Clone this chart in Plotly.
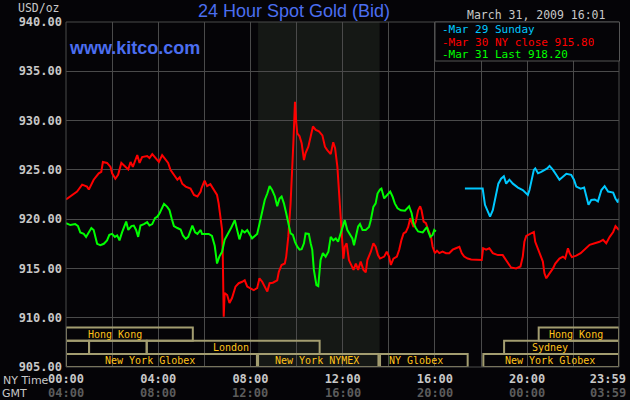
import plotly.graph_objects as go

# ---------------- data (hours since 00:00 NY time, USD/oz) ----------------
red_t = [0.00, 0.26, 0.48, 0.70, 0.91, 0.99, 1.20, 1.42, 1.53, 1.60, 1.78, 1.93, 2.00, 2.14, 2.26, 2.40,
         2.58, 2.70, 2.80, 2.90, 3.01, 3.09, 3.19, 3.30, 3.52, 3.62, 3.74, 3.88, 4.03, 4.17, 4.32, 4.43,
         4.53, 4.68, 4.83, 4.93, 5.04, 5.19, 5.40, 5.55, 5.70, 5.84, 5.87, 6.01, 6.12, 6.26, 6.40, 6.55,
         6.62, 6.70, 6.77, 6.80, 6.84, 6.88, 6.99, 7.09, 7.20, 7.35, 7.49, 7.64, 7.75, 7.86, 8.00, 8.14,
         8.29, 8.39, 8.51, 8.65, 8.73, 8.83, 8.97, 9.16, 9.23, 9.35, 9.49, 9.55, 9.64, 9.74, 9.81, 9.86,
         9.90, 9.93, 9.99, 10.03, 10.13, 10.22, 10.32, 10.39, 10.51, 10.61, 10.71, 10.83, 10.97, 11.12,
         11.23, 11.33, 11.48, 11.59, 11.67, 11.77, 11.84, 11.91, 11.96, 12.03, 12.09, 12.17, 12.27, 12.38,
         12.47, 12.57, 12.67, 12.78, 12.90, 13.00, 13.07, 13.22, 13.33, 13.43, 13.53, 13.62, 13.80, 13.91,
         14.01, 14.09, 14.20, 14.35, 14.45, 14.55, 14.64, 14.74, 14.84, 14.93, 14.99, 15.07, 15.17, 15.27,
         15.36, 15.42, 15.51, 15.61, 15.71, 15.83, 15.90, 16.00, 16.09, 16.19, 16.33, 16.48, 16.62, 16.77,
         16.91, 17.06, 17.16, 17.27, 17.42, 17.57, 18.03, 18.09, 18.22, 18.36, 18.51, 18.73, 18.94, 19.04,
         19.16, 19.30, 19.52, 19.71, 19.81, 19.88, 19.96, 20.17, 20.29, 20.35, 20.47, 20.58, 20.68, 20.75,
         20.83, 20.97, 21.12, 21.22, 21.40, 21.55, 21.65, 21.77, 21.84, 21.94, 22.13, 22.32, 22.49, 22.71,
         22.93, 23.14, 23.29, 23.43, 23.58, 23.73, 23.83, 23.94, 23.98]
red_p = [922.0, 922.4, 922.8, 923.5, 923.3, 923.0, 924.0, 924.65, 924.8, 925.8, 925.7, 925.3, 924.65, 924.1,
         924.5, 925.7, 925.3, 925.05, 925.8, 925.3, 926.0, 926.5, 925.7, 926.3, 926.4, 926.2, 926.6, 926.2,
         925.8, 926.5, 926.1, 925.7, 925.0, 924.5, 924.0, 924.25, 923.6, 923.3, 923.1, 922.45, 922.3, 922.8,
         923.1, 923.9, 923.35, 923.55, 922.95, 922.45, 921.6, 919.9, 918.9, 916.2, 910.1, 912.5, 912.3,
         911.5, 912.0, 913.15, 913.5, 913.65, 913.8, 913.15, 913.0, 912.8, 913.0, 914.0, 913.65, 913.0,
         912.65, 913.5, 913.55, 913.8, 914.65, 915.35, 915.5, 916.2, 918.2, 921.6, 924.65, 927.7, 930.05,
         931.9, 929.7, 928.7, 928.4, 927.7, 926.0, 926.7, 927.35, 928.4, 929.4, 929.05, 928.9, 928.5,
         927.35, 927.0, 926.6, 927.8, 927.2, 925.3, 922.95, 920.6, 917.9, 916.0, 917.2, 917.55, 915.85,
         915.2, 914.85, 915.5, 914.85, 915.7, 914.85, 914.6, 915.85, 916.7, 917.55, 917.2, 916.35, 916.0,
         916.2, 916.7, 916.2, 915.35, 916.0, 916.2, 916.9, 917.9, 918.55, 918.7, 919.2, 920.1, 919.75,
         919.2, 919.75, 920.9, 921.3, 920.9, 919.75, 919.6, 918.9, 918.2, 917.2, 916.55, 916.8, 916.55,
         916.7, 916.55, 916.55, 916.9, 917.05, 917.2, 916.55, 916.2, 916.0, 915.9, 915.85, 917.05, 916.9,
         917.05, 916.55, 916.35, 916.35, 916.0, 915.5, 915.1, 915.0, 915.2, 916.2, 917.7, 918.3, 918.55,
         918.7, 917.7, 916.9, 916.2, 915.7, 914.5, 914.0, 914.5, 915.0, 915.5, 916.0, 916.2, 916.0, 917.05,
         916.55, 916.15, 916.3, 916.55, 916.9, 917.4, 917.55, 917.7, 917.9, 917.55, 918.2, 918.7, 919.3,
         918.95, 918.9]

green_t = [0.00, 0.19, 0.40, 0.52, 0.62, 0.77, 0.87, 0.99, 1.10, 1.20, 1.27, 1.35, 1.49, 1.64, 1.78, 1.88,
           2.00, 2.12, 2.22, 2.32, 2.43, 2.55, 2.61, 2.70, 2.84, 2.94, 3.04, 3.13, 3.23, 3.38, 3.52, 3.62,
           3.74, 3.86, 3.96, 4.06, 4.17, 4.25, 4.39, 4.49, 4.58, 4.68, 4.83, 4.97, 5.07, 5.19, 5.30, 5.40,
           5.48, 5.60, 5.70, 5.84, 5.90, 6.19, 6.33, 6.45, 6.51, 6.55, 6.65, 6.77, 6.88, 7.03, 7.17, 7.32,
           7.42, 7.52, 7.64, 7.75, 7.86, 7.96, 8.07, 8.19, 8.29, 8.39, 8.51, 8.62, 8.73, 8.83, 8.94, 9.06,
           9.16, 9.26, 9.35, 9.45, 9.55, 9.64, 9.74, 9.84, 9.93, 10.03, 10.13, 10.22, 10.32, 10.39, 10.53,
           10.61, 10.68, 10.75, 10.86, 10.94, 11.00, 11.04, 11.14, 11.26, 11.38, 11.48, 11.59, 11.70, 11.80,
           11.91, 12.03, 12.09, 12.20, 12.32, 12.42, 12.49, 12.57, 12.67, 12.75, 12.86, 13.00, 13.14, 13.22,
           13.33, 13.43, 13.51, 13.62, 13.68, 13.80, 13.91, 14.06, 14.16, 14.26, 14.38, 14.52, 14.70, 14.81,
           14.88, 14.99, 15.07, 15.17, 15.27, 15.47, 15.57, 15.65, 15.71, 15.80, 15.90, 15.97, 16.04]
green_p = [919.6, 919.4, 919.5, 919.3, 918.65, 918.5, 918.2, 918.65, 919.1, 918.9, 918.2, 917.5, 917.35,
           917.5, 917.85, 918.4, 918.5, 918.2, 918.35, 917.85, 918.65, 919.4, 919.75, 918.9, 919.3, 919.35,
           918.9, 918.2, 919.35, 919.5, 919.7, 919.35, 919.5, 920.1, 920.25, 920.6, 921.2, 921.55, 921.25,
           920.9, 920.1, 919.3, 919.1, 918.95, 918.35, 918.0, 918.2, 918.9, 919.35, 918.65, 918.5, 918.9,
           918.5, 918.5, 918.3, 917.3, 916.35, 915.5, 916.2, 916.7, 917.9, 918.5, 919.15, 919.9, 918.9,
           917.95, 918.85, 918.65, 918.9, 918.5, 918.05, 918.3, 918.5, 919.5, 920.95, 921.95, 922.6, 923.35,
           922.95, 922.3, 921.3, 922.1, 922.3, 921.6, 920.6, 919.6, 918.55, 918.4, 917.7, 917.2, 916.9,
           916.95, 917.55, 918.55, 918.5, 917.55, 916.9, 914.85, 913.3, 913.2, 914.5, 915.85, 916.55, 916.2,
           916.7, 918.2, 917.85, 918.05, 917.7, 918.55, 919.4, 919.9, 918.9, 918.4, 918.05, 917.35, 918.2,
           919.25, 919.5, 918.9, 918.9, 919.2, 919.9, 921.25, 921.6, 922.6, 923.0, 923.1, 922.1, 922.45,
           922.8, 922.3, 921.6, 921.1, 920.9, 920.85, 921.1, 921.3, 920.6, 919.6, 919.1, 918.75, 918.65,
           918.95, 919.2, 918.75, 918.2, 918.4, 918.9, 918.75]

cyan_t = [17.30, 18.07, 18.17, 18.29, 18.39, 18.51, 18.65, 18.75, 18.87, 18.99, 19.09, 19.23, 19.38, 19.60,
          19.81, 20.03, 20.10, 20.20, 20.29, 20.35, 20.47, 20.61, 20.75, 20.87, 20.97, 21.12, 21.26, 21.40,
          21.55, 21.70, 21.91, 22.03, 22.13, 22.32, 22.47, 22.57, 22.66, 22.78, 22.93, 23.07, 23.22, 23.36,
          23.51, 23.73, 23.83, 23.94, 23.98]
cyan_p = [923.1, 923.1, 921.45, 920.75, 920.25, 920.9, 922.6, 923.6, 924.1, 924.35, 923.6, 924.0, 923.6,
          923.2, 922.95, 922.45, 922.95, 924.1, 925.0, 925.15, 924.65, 924.8, 925.0, 925.15, 925.4, 925.0,
          924.5, 924.0, 924.3, 924.6, 924.5, 924.0, 923.3, 923.1, 923.2, 922.3, 921.45, 921.95, 922.0, 921.8,
          922.95, 923.35, 922.8, 922.7, 922.1, 921.7, 922.1]

# tick labels (the last one is nudged left so that it stays inside the picture)
tick_pos = [0, 4, 8, 12, 16, 20, 23.5]
ny_labels = ["00:00", "04:00", "08:00", "12:00", "16:00", "20:00", "23:59"]
gmt_labels = ["04:00", "08:00", "12:00", "16:00", "20:00", "00:00", "03:59"]

legend_texts = ["-Mar 29 Sunday", "-Mar 30 NY close 915.80", "-Mar 31 Last 918.20"]

# trading sessions: (row, start hour, end hour, label, label centre hour)
sessions = [
    (0, 0.0, 5.5, "Hong Kong", 2.13),
    (0, 20.5, 23.983, "Hong Kong", 22.1),
    (1, 0.0, 1.0, "", None),
    (1, 1.0, 3.5, "", None),
    (1, 3.5, 11.0, "London", 7.17),
    (1, 19.0, 23.983, "Sydney", 21.0),
    (2, 0.0, 8.28, "New York Globex", 3.65),
    (2, 8.33, 13.55, "New York NYMEX", 10.9),
    (2, 13.62, 17.42, "NY Globex", 15.2),
    (2, 18.1, 23.983, "New York Globex", 21.0),
]

# ---------------- layout helpers ----------------
W, H = 630, 400
L, R, T, B = 66, 11, 22, 33
PW, PH = W - L - R, H - T - B
BG = "#050407"
MONO = "DejaVu Sans Mono"
XMAX = 23.983


def pxx(x):
    return (x - L) / PW


def pyy(y):
    return (H - B - y) / PH


YMIN, YMAX = 905, 940
row_edges = [(907.67, 909.0), (906.33, 907.67), (905.0, 906.33)]

fig = go.Figure()
fig.add_trace(go.Scatter(x=red_t, y=red_p, mode="lines", line=dict(color="#ff0000", width=2),
                         hoverinfo="skip"))
fig.add_trace(go.Scatter(x=green_t, y=green_p, mode="lines", line=dict(color="#00ff00", width=2),
                         hoverinfo="skip"))
fig.add_trace(go.Scatter(x=cyan_t, y=cyan_p, mode="lines", line=dict(color="#00c8ff", width=2),
                         hoverinfo="skip"))

shapes = []
# NYMEX shaded period
shapes.append(dict(type="rect", xref="x", yref="y", x0=8.33, x1=13.6, y0=YMIN, y1=YMAX,
                   fillcolor="#151815", line=dict(width=0), layer="below"))
# session boxes
annotations = []
for row, s, e, lab, lc in sessions:
    y0, y1 = row_edges[row]
    shapes.append(dict(type="rect", xref="x", yref="y", x0=s, x1=e, y0=y0, y1=y1,
                       line=dict(color="#a39d70", width=2), fillcolor="rgba(0,0,0,0)", layer="above"))
    if lab:
        annotations.append(dict(x=lc, y=(y0 + y1) / 2, xref="x", yref="y", text=lab, showarrow=False,
                                font=dict(family=MONO, size=10, color="#ffc21a"),
                                xanchor="center", yanchor="middle"))
# plot border
shapes.append(dict(type="rect", xref="paper", yref="paper", x0=0, x1=1, y0=0, y1=1,
                   line=dict(color="#4a4a4a", width=1), layer="above"))
# legend box
shapes.append(dict(type="rect", xref="paper", yref="paper", x0=pxx(435), x1=pxx(619.5), y0=pyy(61),
                   y1=pyy(22), line=dict(color="#555555", width=1), fillcolor=BG, layer="above"))

legend_colors = ["#00c8ff", "#ff0000", "#00ff00"]
for i, (txt, col) in enumerate(zip(legend_texts, legend_colors)):
    annotations.append(dict(x=pxx(441), y=pyy(29 + 12.5 * i), xref="paper", yref="paper", text=txt,
                            showarrow=False, xanchor="left", yanchor="middle", height=12, borderpad=0,
                            valign="middle",
                            font=dict(family=MONO, size=11, color=col)))

# GMT row of time labels
for pos, lab in zip(tick_pos, gmt_labels):
    annotations.append(dict(x=pos, y=pyy(393), xref="x", yref="paper", text=lab, showarrow=False,
                            xanchor="center", yanchor="middle",
                            font=dict(family=MONO, size=12, color="#5c5c5c", weight="bold")))

annotations += [
    dict(x=pxx(294), y=pyy(11), xref="paper", yref="paper", text="24 Hour Spot Gold (Bid)",
         showarrow=False, xanchor="center", yanchor="middle",
         font=dict(family="Liberation Sans", size=18, color="#4b6ef0")),
    dict(x=pxx(67), y=pyy(48), xref="paper", yref="paper", text="www.kitco.com",
         showarrow=False, xanchor="left", yanchor="middle",
         font=dict(family="Liberation Sans", size=18, color="#4b6ef0", weight="bold")),
    dict(x=pxx(608), y=pyy(15), xref="paper", yref="paper", text="March 31, 2009 16:01",
         showarrow=False, xanchor="right", yanchor="middle",
         font=dict(family=MONO, size=11.5, color="#c8c8c8")),
    dict(x=pxx(62), y=pyy(8), xref="paper", yref="paper", text="USD/oz",
         showarrow=False, xanchor="right", yanchor="middle",
         font=dict(family=MONO, size=11.5, color="#c8c8c8")),
    dict(x=pxx(1), y=pyy(380), xref="paper", yref="paper", text="NY Time",
         showarrow=False, xanchor="left", yanchor="middle",
         font=dict(family="DejaVu Sans", size=11, color="#c8c8c8")),
    dict(x=pxx(29), y=pyy(393), xref="paper", yref="paper", text="GMT",
         showarrow=False, xanchor="right", yanchor="middle",
         font=dict(family="DejaVu Sans", size=11, color="#c8c8c8")),
]

fig.update_layout(
    width=W, height=H, margin=dict(l=L, r=R, t=T, b=B, pad=0, autoexpand=False),
    paper_bgcolor=BG, plot_bgcolor=BG, showlegend=False,
    shapes=shapes, annotations=annotations,
    xaxis=dict(range=[0, XMAX], tickvals=tick_pos, ticktext=ny_labels, showgrid=False,
               zeroline=False, showline=False, ticks="", automargin=False,
               tickfont=dict(family=MONO, size=12, color="#c8c8c8", weight="bold"),
               ticklabelstandoff=3,
               minor=dict(tick0=0, dtick=2, showgrid=True, gridcolor="#4a4a4a", gridwidth=1)),
    yaxis=dict(range=[YMIN, YMAX], dtick=5, tick0=905, tickformat=".2f", showgrid=True,
               gridcolor="#4a4a4a", gridwidth=1, zeroline=False, showline=False, ticks="",
               automargin=False,
               tickfont=dict(family=MONO, size=12, color="#c8c8c8", weight="bold"),
               ticklabelstandoff=3),
)

fig.write_html("out.html", config={"displayModeBar": False},
               post_script="document.body.style.margin='0px';")
